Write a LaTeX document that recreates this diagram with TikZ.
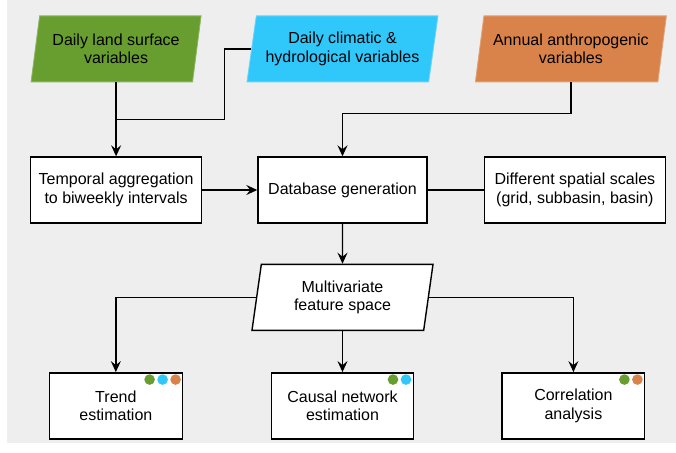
\documentclass[tikz,border=0pt]{standalone}
\usepackage{fontspec}
\setmainfont{Liberation Sans}
\usepackage{xcolor}
\usepackage{tikz}
\usetikzlibrary{arrows.meta,
  positioning,
  shapes.geometric,
  calc}

\definecolor{landgreen}{HTML}{679E2F}
\definecolor{climblue}{HTML}{30C8FA}
\definecolor{anthroorange}{HTML}{D9834A}
\definecolor{backgray}{HTML}{EEEEEE}

\begin{document}
\begin{tikzpicture}[
  font=\fontsize{16}{18.5}\selectfont,
  line width=1.4pt,
  >={Stealth[length=11pt, width=10pt, inset=4pt]},
  box/.style={
    draw, fill=white,
    minimum width=#1, minimum height=66pt,
    align=center, inner sep=2pt
  },
  inputs/.style={
    trapezium, trapezium stretches body,
    trapezium left angle=76, trapezium right angle=104,
    minimum width=#1, minimum height=66pt,
    align=center, inner sep=2pt
  },
  vardot/.style={
    circle, fill=#1, draw=none,
    minimum size=10.6pt, inner sep=0pt, outer sep=0pt
  }]

% background
\useasboundingbox (-342.5pt,-262pt) rectangle (333.5pt,190pt);
\fill[backgray] (-335.5pt,-253pt) rectangle (333.5pt,190pt);

% processing row
\node[box=169pt] (db) {Database generation};
\node[box=171pt, left = 55pt of db] (temp) {Temporal aggregation\\to biweekly intervals};
\node[box=181pt, right = 56pt of db] (scales) {Different spatial scales\\(grid, subbasin, basin)};

% input variables
\node[inputs=170pt, fill=landgreen, draw=landgreen!75!white, line width=0.8pt,
  above = 74pt of temp] (land) {Daily land surface\\variables};
\node[inputs=191pt, fill=climblue, draw=climblue!75!white, line width=0.8pt,
  above = 74pt of db] (clim) {Daily climatic \&\\hydrological variables};
\node[inputs=191pt, fill=anthroorange, draw=anthroorange!75!white, line width=0.8pt,
  above = 74pt of scales, xshift=-4pt] (anthro) {Annual anthropogenic\\variables};

% feature space
\node[inputs=181pt, draw, fill=white, below = 40pt of db] (mfs) {Multivariate\\feature space};

% analyses
\node[box=142.5pt, below = 41pt of mfs] (causal) {Causal network\\estimation};
\node[box=133pt, left = 87.5pt of causal] (trend) {Trend\\estimation};
\node[box=142.5pt, right = 87pt of causal] (corr) {Correlation\\analysis};

% variables used by each analysis
\node[vardot=anthroorange, below left = 3.7pt and 3.7pt of trend.north east] (trend-d3) {};
\node[vardot=climblue, left = 2.4pt of trend-d3] (trend-d2) {};
\node[vardot=landgreen, left = 2.4pt of trend-d2] (trend-d1) {};
\node[vardot=climblue, below left = 3.7pt and 4.7pt of causal.north east] (causal-d2) {};
\node[vardot=landgreen, left = 2.4pt of causal-d2] (causal-d1) {};
\node[vardot=anthroorange, below left = 3.7pt and 4.2pt of corr.north east] (corr-d2) {};
\node[vardot=landgreen, left = 2.4pt of corr-d2] (corr-d1) {};

% inputs to processing
\coordinate (join) at ($(land.south)!0.5!(temp.north)$);
\draw[->] (land.south) -- (temp.north);
\draw (clim.left side) -- ++(-27pt,0) |- (join);
\draw[->] (anthro.south) -- ++(0,-31pt) -| (db.north);
\draw[->] (temp) -- (db);
\draw (db) -- (scales);
\draw[->] (db) -- (mfs);

% feature space to analyses
\draw[->] (mfs.left side) -| (trend.north);
\draw[->] (mfs.south) -- (causal.north);
\draw[->] (mfs.right side) -| (corr.north);

\end{tikzpicture}
\end{document}
